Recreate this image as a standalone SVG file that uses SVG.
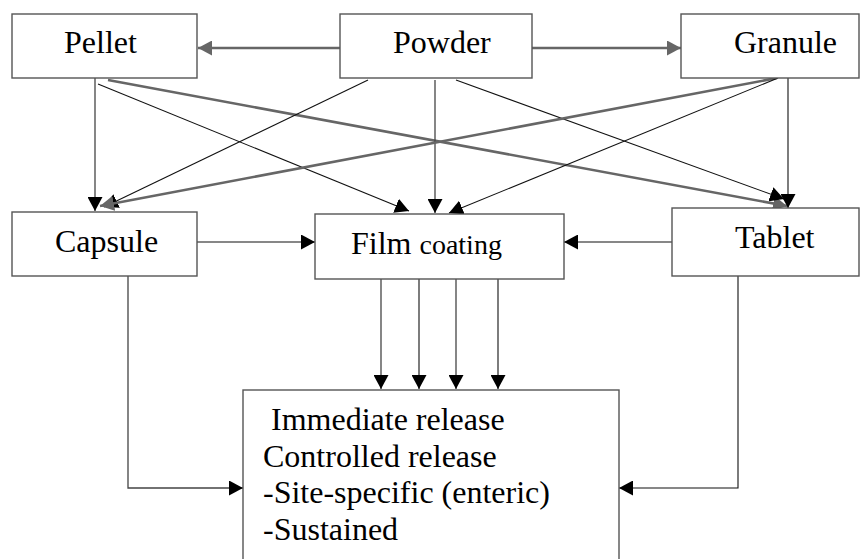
<svg xmlns="http://www.w3.org/2000/svg" width="861" height="559" viewBox="0 0 861 559">
<style>
.box{fill:#fff;stroke:#555;stroke-width:1.4}
.t{font-family:'Liberation Serif','Times New Roman',Tinos,'DejaVu Serif',serif;font-size:32px;fill:#000}
.thin{stroke:#111;stroke-width:1.1;fill:none}
.vert{stroke:#444;stroke-width:1.3;fill:none}
.thick{stroke:#666;stroke-width:2.6;fill:none}
</style>
<defs>
<marker id="ab" markerUnits="userSpaceOnUse" markerWidth="15" markerHeight="15" refX="14" refY="7.5" orient="auto" viewBox="0 0 15 15">
<path d="M0,0 L14,7.5 L0,15 z" fill="#000"/>
</marker>
<marker id="ag" markerUnits="userSpaceOnUse" markerWidth="15" markerHeight="15" refX="14" refY="7.5" orient="auto" viewBox="0 0 15 15">
<path d="M0,0 L14,7.5 L0,15 z" fill="#666"/>
</marker>
</defs>
<g id="connectors">
<line class="thick" x1="340" y1="48" x2="198" y2="48" marker-end="url(#ag)"/>
<line class="thick" x1="532" y1="48" x2="681" y2="48" marker-end="url(#ag)"/>
<line class="vert" x1="95" y1="78" x2="95" y2="211" marker-end="url(#ab)"/>
<line class="thin" x1="98" y1="84" x2="409" y2="211" marker-end="url(#ab)"/>
<line class="thick" x1="108" y1="80" x2="787" y2="206" marker-end="url(#ag)"/>
<line class="thin" x1="368" y1="80" x2="104" y2="207" marker-end="url(#ab)"/>
<line class="vert" x1="435" y1="80" x2="435" y2="213" marker-end="url(#ab)"/>
<line class="thin" x1="456" y1="80" x2="784" y2="199" marker-end="url(#ab)"/>
<line class="thick" x1="777" y1="78" x2="100" y2="206" marker-end="url(#ag)"/>
<line class="thin" x1="778" y1="78" x2="449" y2="213" marker-end="url(#ab)"/>
<line class="thin" x1="788" y1="78" x2="788" y2="208" marker-end="url(#ab)"/>
<line class="thin" x1="197" y1="242" x2="315" y2="242" marker-end="url(#ab)"/>
<line class="thin" x1="672" y1="242" x2="564" y2="242" marker-end="url(#ab)"/>
<line class="vert" x1="381" y1="279" x2="381" y2="389" marker-end="url(#ab)"/>
<line class="thin" x1="419" y1="279" x2="419" y2="389" marker-end="url(#ab)"/>
<line class="vert" x1="456" y1="279" x2="456" y2="389" marker-end="url(#ab)"/>
<line class="thin" x1="498" y1="279" x2="498" y2="389" marker-end="url(#ab)"/>
<polyline class="vert" points="128,276 128,488 243,488" marker-end="url(#ab)"/>
<polyline class="thin" points="738,276 738,488 619,488" marker-end="url(#ab)"/>
</g>
<g id="pellet"><rect class="box" x="12" y="14" width="185" height="64"/><text class="t" x="64" y="53">Pellet</text></g>
<g id="powder"><rect class="box" x="340" y="14" width="192" height="64"/><text class="t" x="393" y="53">Powder</text></g>
<g id="granule"><rect class="box" x="681" y="14" width="178" height="64"/><text class="t" x="734" y="53">Granule</text></g>
<g id="capsule"><rect class="box" x="12" y="212" width="185" height="64"/><text class="t" x="55" y="252">Capsule</text></g>
<g id="film"><rect class="box" x="315" y="214" width="249" height="65"/><text class="t" x="351" y="254">Film <tspan style="font-size:28px">coating</tspan></text></g>
<g id="tablet"><rect class="box" x="672" y="208" width="187" height="68"/><text class="t" x="735" y="248">Tablet</text></g>
<g id="release"><rect class="box" x="243" y="390" width="376" height="180"/>
<text class="t" x="271" y="430">Immediate release</text>
<text class="t" x="263" y="467">Controlled release</text>
<text class="t" x="263" y="503">-Site-specific (enteric)</text>
<text class="t" x="263" y="540">-Sustained</text>
</g>
</svg>
